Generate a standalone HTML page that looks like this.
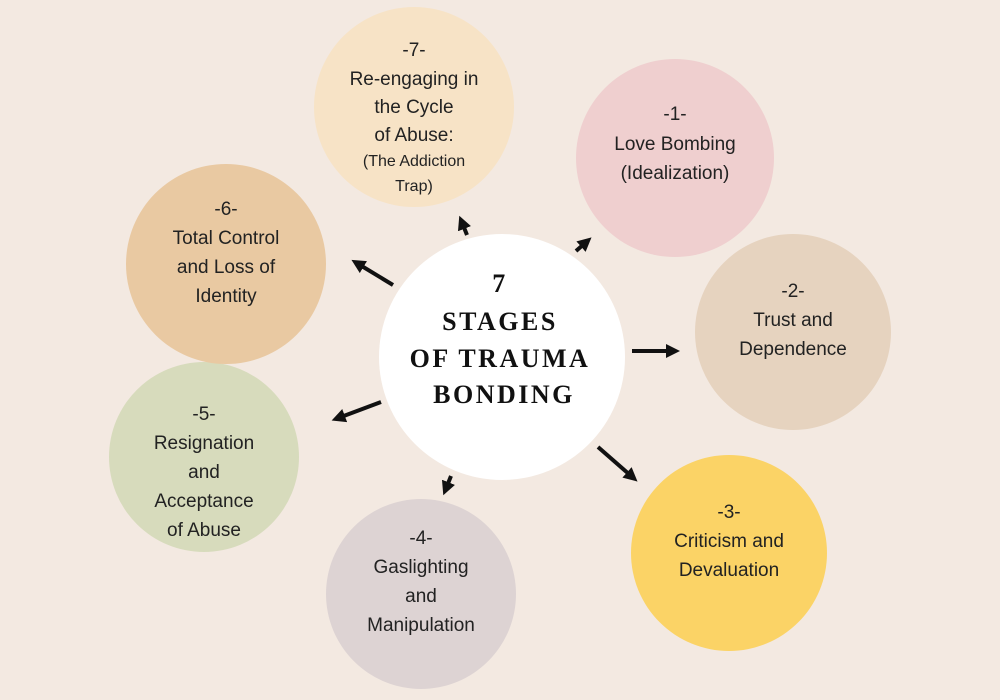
<!DOCTYPE html>
<html><head><style>
html,body{margin:0;padding:0;background:#f3e9e1;}
svg{display:block;}
.t{font-family:"Liberation Sans",sans-serif;font-size:19px;fill:#222;text-anchor:middle;}
.s{font-size:16px;}
.c{font-family:"Liberation Serif",serif;font-weight:bold;font-size:26px;fill:#111;text-anchor:middle;letter-spacing:2.5px;}
</style></head><body>
<svg width="1000" height="700" viewBox="0 0 1000 700">
<defs><marker id="a" markerWidth="3.5" markerHeight="3.5" refX="1" refY="1.75" orient="auto" markerUnits="strokeWidth"><path d="M0,0 L3.5,1.75 L0,3.5 Z" fill="#111"/></marker></defs>
<rect width="1000" height="700" fill="#f3e9e1"/>
<circle cx="414" cy="107" r="100" fill="#f7e3c6"/>
<circle cx="675" cy="158" r="99" fill="#efcfcf"/>
<circle cx="793" cy="332" r="98" fill="#e6d3bf"/>
<circle cx="729" cy="553" r="98" fill="#fbd366"/>
<circle cx="421" cy="594" r="95" fill="#ddd3d3"/>
<circle cx="204" cy="457" r="95" fill="#d7dbbc"/>
<circle cx="226" cy="264" r="100" fill="#e9c9a2"/>
<circle cx="502" cy="357" r="123" fill="#fff"/>
<g stroke="#111" stroke-width="4" fill="none" marker-end="url(#a)">
<line x1="576" y1="251" x2="584" y2="244"/>
<line x1="632" y1="351" x2="670" y2="351"/>
<line x1="598" y1="447" x2="630" y2="475"/>
<line x1="451" y1="476" x2="447" y2="486"/>
<line x1="381" y1="402" x2="341" y2="417"/>
<line x1="393" y1="285" x2="360" y2="265"/>
<line x1="467" y1="235" x2="463" y2="225"/>
</g>
<text class="c" x="500" y="292">7</text>
<text class="c" x="500" y="330">STAGES</text>
<text class="c" x="500" y="367">OF TRAUMA</text>
<text class="c" x="504" y="403">BONDING</text>
<text class="t" x="414" y="56">-7-</text>
<text class="t" x="414" y="85">Re-engaging in</text>
<text class="t" x="414" y="113">the Cycle</text>
<text class="t" x="414" y="141">of Abuse:</text>
<text class="t s" x="414" y="166">(The Addiction</text>
<text class="t s" x="414" y="191">Trap)</text>
<text class="t" x="675" y="120">-1-</text>
<text class="t" x="675" y="150">Love Bombing</text>
<text class="t" x="675" y="179">(Idealization)</text>
<text class="t" x="793" y="297">-2-</text>
<text class="t" x="793" y="326">Trust and</text>
<text class="t" x="793" y="355">Dependence</text>
<text class="t" x="729" y="518">-3-</text>
<text class="t" x="729" y="547">Criticism and</text>
<text class="t" x="729" y="576">Devaluation</text>
<text class="t" x="421" y="544">-4-</text>
<text class="t" x="421" y="573">Gaslighting</text>
<text class="t" x="421" y="602">and</text>
<text class="t" x="421" y="631">Manipulation</text>
<text class="t" x="204" y="420">-5-</text>
<text class="t" x="204" y="449">Resignation</text>
<text class="t" x="204" y="478">and</text>
<text class="t" x="204" y="507">Acceptance</text>
<text class="t" x="204" y="536">of Abuse</text>
<text class="t" x="226" y="215">-6-</text>
<text class="t" x="226" y="244">Total Control</text>
<text class="t" x="226" y="273">and Loss of</text>
<text class="t" x="226" y="302">Identity</text>
</svg>
</body></html>
